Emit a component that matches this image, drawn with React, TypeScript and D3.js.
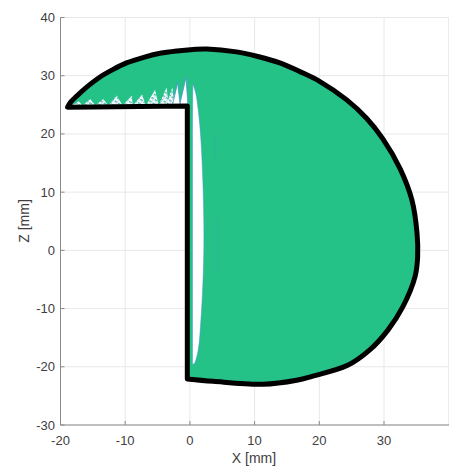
import React from "react";
import * as d3 from "d3";

const xTicks = [-20, -10, 0, 10, 20, 30];
const xGrid = [-20, -10, 0, 10, 20, 30, 40];
const zTicks = [40, 30, 20, 10, 0, -10, -20, -30];

// outer arc of the profile [X, Z] in mm, from the flange tip round to the wall foot
const arc: [number, number][] = [
  [-18.9, 24.6], [-18.4, 25.5], [-17.5, 26.5], [-16, 28], [-14, 29.7], [-12, 31], [-9.8, 32.2], [-7, 33.2], [-4.6, 33.85], [-2, 34.25], [0.5, 34.5],
  [2.6, 34.6], [7.2, 34.1], [10.5, 33.3], [13.9, 32.2], [17, 30.7], [20.1, 29], [24.2, 25.9], [27.3, 22.7], [29.8, 19.2],
  [32.5, 14], [34.3, 8.7], [35.1, 3], [35.2, -1.1], [34.8, -4.5], [32.9, -9.7], [30.6, -13.7], [27.8, -17.1],
  [24.3, -19.8], [19, -21.6], [16.5, -22.3], [11.3, -23], [3.6, -22.5], [-0.4, -22.1],
];
const wall: [number, number][] = [[-0.4, -22.1], [-0.4, 24.8], [-18.9, 24.6]];

// white gap next to the wall: [X, Z]
const gapRight: [number, number][] = [
  [0.45, 28.6], [0.9, 27], [1.3, 24], [1.7, 19], [2.0, 12], [2.15, 5], [2.15, 0], [2.0, -6], [1.7, -12], [1.3, -17], [0.75, -19.3], [0.45, -19.6],
];
const gapLeft: [number, number][] = [[0.4, -19.6], [0.4, -10], [0.4, 5], [0.4, 20], [0.45, 28.6]];

// solid unfilled spikes near the wall: apex X, apex Z, base left X, base right X
const spikes: [number, number, number, number][] = [
  [-0.6, 29.7, -1.6, -0.3], [-1.9, 28.8, -2.7, -1.5],
];
// mottled unfilled teeth above the flange: apex X, apex Z, base left X, base right X
const teeth: [number, number, number, number][] = [
  [-2.7, 28.0, -3.7, -2.4], [-3.6, 28.0, -4.8, -3.3], [-5.4, 27.6, -6.8, -4.8], [-7.4, 26.8, -8.8, -6.8], [-9, 26.6, -10.4, -8.8],
  [-11.3, 26.6, -12.6, -10.4], [-13.4, 26, -14.6, -12.6], [-15.4, 26, -16.6, -14.6], [-17.2, 25.6, -18.2, -16.6],
];

// faint streaks in the fill: X, Z start, Z end
const streaks: [number, number, number][] = [
  [3.9, 20.2, 16], [4.3, 5.7, -3.7],
];

// speckled edge just inside the lower boundary: [X, Z]
const lowerSpeckle: [number, number][] = [
  [3.6, -22], [7, -22.2], [11.3, -22.45], [16.5, -21.8], [19, -21.1], [24.3, -19.2], [26, -18],
];

const W = 449, H = 468;
const x = d3.scaleLinear().domain([-20, 40]).range([60.5, 448.7]);
const z = d3.scaleLinear().domain([-30, 40]).range([425, 17.5]);
const smooth = d3.line<[number, number]>().x((d) => x(d[0])).y((d) => z(d[1])).curve(d3.curveCatmullRom);
const straight = d3.line<[number, number]>().x((d) => x(d[0])).y((d) => z(d[1]));
const GREEN = "#25C287";
const BLUE = "#4A90D9";
const GRID = "#e8e8e8";
const AX = "#8a8a8a";
const INK = "#404040";
const FONT = "'Liberation Sans', Arial, sans-serif";

export default function App() {
  const fy = z(24.9);
  const profile = smooth(arc)! + straight(wall)!.replace("M", "L");
  const tooth = (t: [number, number, number, number]) =>
    `M${x(t[2])},${fy}L${x(t[0])},${z(t[1])}L${x(t[3])},${fy}Z`;
  return (
    <svg width={W} height={H} style={{ position: "absolute", left: 0, top: 0, background: "#fff" }}>
      <defs>
        <pattern id="mottle" width={4} height={4} patternUnits="userSpaceOnUse" patternTransform="rotate(35)">
          <rect width={4} height={4} fill="#fff" />
          <rect x={0} y={0} width={1.6} height={1.6} fill={GREEN} />
          <rect x={1.6} y={0} width={1.2} height={1.2} fill={BLUE} />
          <rect x={2.2} y={2.2} width={1} height={1} fill={BLUE} opacity={0.7} />
        </pattern>
      </defs>
      {xGrid.map((t) => (
        <line key={t} x1={x(t)} x2={x(t)} y1={17.5} y2={425} stroke={GRID} />
      ))}
      {zTicks.map((t) => (
        <line key={t} x1={60.5} x2={449} y1={z(t)} y2={z(t)} stroke={GRID} />
      ))}
      <line x1={60.5} x2={60.5} y1={17.5} y2={425} stroke={AX} />
      <line x1={60.5} x2={449} y1={425} y2={425} stroke={AX} />
      {xTicks.map((t) => (
        <g key={t}>
          <line x1={x(t)} x2={x(t)} y1={425} y2={421} stroke={AX} />
          <text x={x(t)} y={445} textAnchor="middle" fontFamily={FONT} fontSize={13} fill={INK}>{t}</text>
        </g>
      ))}
      {zTicks.map((t) => (
        <g key={t}>
          <line x1={60.5} x2={64.5} y1={z(t)} y2={z(t)} stroke={AX} />
          <text x={55} y={z(t) + 4.5} textAnchor="end" fontFamily={FONT} fontSize={13} fill={INK}>{t}</text>
        </g>
      ))}
      <text x={254} y={463} textAnchor="middle" fontFamily={FONT} fontSize={14} fill={INK}>X [mm]</text>
      <text transform="translate(29,221) rotate(-90)" textAnchor="middle" fontFamily={FONT} fontSize={14} fill={INK}>Z [mm]</text>

      <path d={profile + "Z"} fill={GREEN} stroke="none" />
      {teeth.map((t, i) => (
        <path key={i} d={tooth(t)} fill="url(#mottle)" stroke="none" />
      ))}
      {spikes.map((t, i) => (
        <path key={i} d={tooth(t)} fill="#fff" stroke={BLUE} strokeWidth={0.8} />
      ))}
      <path d={smooth(gapRight)! + straight(gapLeft)!.replace("M", "L") + "Z"} fill="#fff" stroke={BLUE} strokeWidth={0.5} />
      {streaks.map((s, i) => (
        <line key={i} x1={x(s[0])} x2={x(s[0])} y1={z(s[1])} y2={z(s[2])} stroke={BLUE} strokeWidth={0.5} opacity={0.7} />
      ))}
      <path d={smooth(lowerSpeckle)!} fill="none" stroke={BLUE} strokeWidth={0.9} strokeDasharray="1 6" />
      <path d={profile} fill="none" stroke="#000" strokeWidth={5} strokeLinejoin="round" strokeLinecap="round" />
    </svg>
  );
}
